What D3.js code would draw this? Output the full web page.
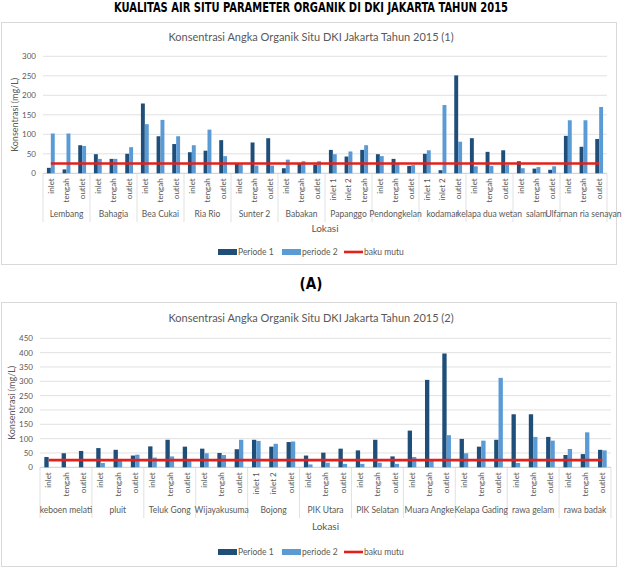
<!DOCTYPE html>
<html>
<head>
<meta charset="utf-8">
<script src="https://cdn.jsdelivr.net/npm/d3@7"></script>
<style>
  body { margin:0; background:#fff; }
  svg text { font-family: Lato, "Open Sans", sans-serif; }
</style>
</head>
<body>
<div id="chart"></div>
<script>
// ---- data: chart (1)
var lokasi1 = ["Lembang","Bahagia","Bea Cukai","Ria Rio","Sunter 2","Babakan","Papanggo","Pendongkelan","kodamar","kelapa dua wetan","salam","Ulfarnan ria senayan"]
var titik1 = [
  ["inlet","tengah","outlet"],["inlet","tengah","outlet"],["inlet","tengah","outlet"],["inlet","tengah","outlet"],
  ["inlet","tengah","outlet"],["inlet","tengah","outlet"],["inlet 1","inlet 2","tengah"],["inlet","tengah","outlet"],
  ["inlet 1","inlet 2","outlet"],["inlet","tengah","outlet"],["inlet","tengah","outlet"],["inlet","tengah","outlet"]
]
var periode1A = [14,10,72, 49,37,50, 179,95,75, 54,58,85, 24,79,90, 13,24,22, 60,43,60, 49,37,19, 50,8,251, 90,55,59, 31,12,9, 96,68,88]
var periode2A = [102,102,70, 37,37,67, 126,137,95, 72,112,44, 23,20,20, 35,31,31, 49,56,72, 44,24,21, 59,175,81, 18,19,22, 13,16,18, 136,136,170]
var yTicks1 = [0,50,100,150,200,250,300]

// ---- data: chart (2)
var lokasi2 = ["keboen melati","pluit","Teluk Gong","Wijayakusuma","Bojong","PIK Utara","PIK Selatan","Muara Angke","Kelapa Gading","rawa gelam","rawa badak"]
var titik2 = [
  ["inlet","tengah","outlet"],["inlet","tengah","outlet"],["inlet","tengah","outlet"],["inlet","tengah","outlet"],
  ["inlet 1","inlet 2","outlet"],["inlet","tengah","outlet"],["inlet","tengah","outlet"],["inlet","tengah","outlet"],
  ["inlet","tengah","outlet"],["inlet","tengah","outlet"],["inlet","tengah","outlet"]
]
var periode1B = [36,49,57, 67,61,41, 73,96,72, 65,50,63, 96,72,88, 41,51,65, 59,96,38, 128,305,397, 99,72,96, 185,185,106, 43,46,61]
var periode2B = [null,null,null, 15,22,44, 34,38,22, 49,43,96, 92,82,90, 10,16,12, 12,16,12, 36,22,112, 49,93,312, 15,106,93, 64,122,59]
var yTicks2 = [0,50,100,150,200,250,300,350,400,450]

var bakuMutu = 25
var seriesNames = ["Periode 1","periode 2","baku mutu"]
var colors = ["#1f4e79","#5b9bd5","#e3201b"]
var textColor = "#595959"

var svg = d3.select("#chart").append("svg")
  .attr("width", 623)
  .attr("height", 569)

// heading
svg.append("text")
  .attr("x", 311).attr("y", 12)
  .attr("text-anchor","middle")
  .style("font-family",'"Liberation Sans Narrow","DejaVu Sans Condensed",sans-serif')
  .style("font-weight","bold").style("font-size","14px")
  .attr("textLength", 394).attr("lengthAdjust","spacingAndGlyphs")
  .text("KUALITAS AIR SITU PARAMETER ORGANIK DI DKI JAKARTA TAHUN 2015")

svg.append("text")
  .attr("x", 311).attr("y", 289)
  .attr("text-anchor","middle")
  .style("font-family",'"Liberation Sans Narrow","DejaVu Sans Condensed",sans-serif')
  .style("font-weight","bold").style("font-size","15px")
  .text("(A)")

drawChart({
  frame:[1,22,616,264], title:"Konsentrasi Angka Organik Situ DKI Jakarta Tahun 2015 (1)", titleY:41,
  left:43, right:607, top:56.3, bottom:173.3, yMax:300, ticks:yTicks1,
  groups:lokasi1, subs:titik1, p1:periode1A, p2:periode2A,
  yTitleX:15, groupY:217, lokasiY:232, legendY:252
})

drawChart({
  frame:[1,302,616,566], title:"Konsentrasi Angka Organik Situ DKI Jakarta Tahun 2015 (2)", titleY:322,
  left:40, right:611, top:338.3, bottom:467.3, yMax:450, ticks:yTicks2,
  groups:lokasi2, subs:titik2, p1:periode1B, p2:periode2B,
  yTitleX:12, groupY:513, lokasiY:530, legendY:552
})

function drawChart(o)
{
  var g = svg.append("g")
  g.append("rect")
    .attr("x",o.frame[0]+0.5).attr("y",o.frame[1]+0.5)
    .attr("width",o.frame[2]-o.frame[0]).attr("height",o.frame[3]-o.frame[1])
    .attr("fill","#fff").attr("stroke","#d9d9d9")

  g.append("text")
    .attr("x",311).attr("y",o.titleY)
    .attr("text-anchor","middle")
    .attr("fill",textColor)
    .style("font-size","11px")
    .text(o.title)

  // flat category list
  var cats = []
  o.subs.forEach(function(s,gi){
    s.forEach(function(name,j){ cats.push({group:gi, name:name, key:gi+"-"+j}) })
  })
  cats.forEach(function(c,i){ c.v1 = o.p1[i]; c.v2 = o.p2[i] })

  var x0 = d3.scaleBand()
    .domain(cats.map(function(c){ return c.key }))
    .range([o.left,o.right])
    .paddingInner(0.5).paddingOuter(0.25)
  var x1 = d3.scaleBand()
    .domain(["v1","v2"])
    .range([0,x0.bandwidth()])
  var y = d3.scaleLinear().domain([0,o.yMax]).range([o.bottom,o.top])
  var step = x0.step()

  // grid
  g.append("g").selectAll("line")
    .data(o.ticks)
    .enter().append("line")
      .attr("x1",o.left).attr("x2",o.right)
      .attr("y1",function(d){ return y(d) }).attr("y2",function(d){ return y(d) })
      .attr("stroke",function(d){ return d==0 ? "#bfbfbf" : "#d9d9d9" })
      .attr("stroke-width",0.8)

  var yAxis = g.append("g")
    .attr("transform","translate("+o.left+",0)")
    .call(d3.axisLeft(y).tickValues(o.ticks).tickSize(0).tickPadding(7))
  yAxis.select(".domain").remove()
  yAxis.selectAll("text").attr("fill",textColor).style("font-size","8px").style("font-family","Lato, sans-serif")

  g.append("text")
    .attr("transform","translate("+o.yTitleX+","+((o.top+o.bottom)/2)+") rotate(-90)")
    .attr("text-anchor","middle").attr("dy","0.35em")
    .attr("fill",textColor)
    .style("font-size","9px")
    .text("Konsentrasi (mg/L)")

  // bars
  var barG = g.append("g").selectAll("g")
    .data(cats)
    .enter().append("g")
      .attr("transform",function(c){ return "translate("+x0(c.key)+",0)" })
  barG.selectAll("rect")
    .data(function(c){ return [{k:"v1",v:c.v1},{k:"v2",v:c.v2}].filter(function(d){ return d.v!=null }) })
    .enter().append("rect")
      .attr("x",function(d){ return x1(d.k) })
      .attr("width",x1.bandwidth())
      .attr("y",function(d){ return y(d.v) })
      .attr("height",function(d){ return y(0)-y(d.v) })
      .attr("fill",function(d){ return d.k=="v1" ? colors[0] : colors[1] })

  // baku mutu line
  g.append("line")
    .attr("x1",x0(cats[0].key)+x0.bandwidth()/2)
    .attr("x2",x0(cats[cats.length-1].key)+x0.bandwidth()/2)
    .attr("y1",y(bakuMutu)).attr("y2",y(bakuMutu))
    .attr("stroke",colors[2]).attr("stroke-width",2.6)

  // category labels
  g.append("g").selectAll("text")
    .data(cats)
    .enter().append("text")
      .attr("transform",function(c){ return "translate("+(x0(c.key)+x0.bandwidth()/2)+","+(o.bottom+5)+") rotate(-90)" })
      .attr("text-anchor","end").attr("dy","0.35em")
      .attr("fill",textColor)
      .style("font-size","8px")
      .text(function(c){ return c.name })

  // group separators and labels
  var bounds = [0]
  o.subs.forEach(function(s){ bounds.push(bounds[bounds.length-1]+s.length) })
  g.append("g").selectAll("line")
    .data(bounds)
    .enter().append("line")
      .attr("x1",function(b){ return o.left+b*step }).attr("x2",function(b){ return o.left+b*step })
      .attr("y1",o.bottom).attr("y2",o.groupY+5)
      .attr("stroke","#d9d9d9").attr("stroke-width",0.8)
  g.append("g").selectAll("text")
    .data(o.groups)
    .enter().append("text")
      .attr("x",function(d,i){ return o.left+(bounds[i]+bounds[i+1])/2*step })
      .attr("y",o.groupY)
      .attr("text-anchor","middle")
      .attr("fill",textColor)
      .style("font-size","8.5px")
      .text(function(d){ return d })

  g.append("text")
    .attr("x",(o.left+o.right)/2).attr("y",o.lokasiY)
    .attr("text-anchor","middle")
    .attr("fill",textColor)
    .style("font-size","10px")
    .text("Lokasi")

  // legend
  var lx = [218,282,344]
  var leg = g.append("g").selectAll("g")
    .data(seriesNames)
    .enter().append("g")
      .attr("transform",function(d,i){ return "translate("+lx[i]+","+o.legendY+")" })
  leg.append("rect")
    .attr("x",0).attr("y",function(d,i){ return i==2 ? -1.3 : -3 })
    .attr("width",19).attr("height",function(d,i){ return i==2 ? 2.6 : 6 })
    .attr("fill",function(d,i){ return colors[i] })
  leg.append("text")
    .attr("x",20).attr("dy","0.35em")
    .attr("fill",textColor)
    .style("font-size","8.5px")
    .text(function(d){ return d })
}
</script>
</body>
</html>
